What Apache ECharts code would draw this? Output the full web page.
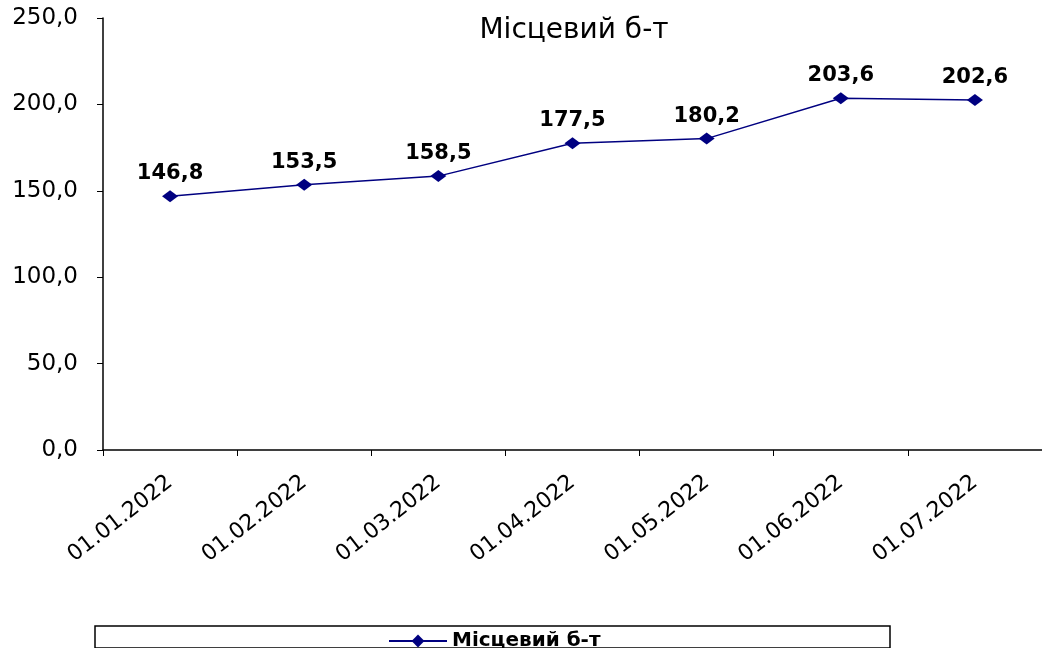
<!DOCTYPE html>
<html lang="uk">
<head>
    <meta charset="UTF-8">
    <title>Місцевий б-т</title>
    <script src="https://cdn.jsdelivr.net/npm/echarts@6/dist/echarts.min.js"></script>
    <style>
        html, body { margin: 0; padding: 0; background: #fff; }
        #main { width: 1042px; height: 648px; }
    </style>
</head>
<body>
    <div id="main"></div>
    <script>
        const dates = ["01.01.2022", "01.02.2022", "01.03.2022", "01.04.2022", "01.05.2022", "01.06.2022", "01.07.2022"];
        const budget = [146.8, 153.5, 158.5, 177.5, 180.2, 203.6, 202.6];
        const seriesName = "Місцевий б-т";

        const chart = echarts.init(document.getElementById('main'));
        const fmt = v => v.toFixed(1).replace('.', ',');

        const option = {
            animation: false,
            textStyle: { fontFamily: "DejaVu Sans, sans-serif" },
            title: {
                text: seriesName,
                left: 569,
                top: 12,
                textAlign: 'center',
                textStyle: { fontSize: 28, fontWeight: 'normal', color: '#000', fontFamily: "DejaVu Sans" }
            },
            graphic: [{
                type: 'rect',
                shape: { x: 95, y: 626, width: 795, height: 22 },
                style: { fill: '#fff', stroke: '#000', lineWidth: 1.5 },
                z: -1
            }],
            legend: {
                data: [seriesName],
                left: 383,
                top: 626,
                itemWidth: 58,
                itemHeight: 16,
                textStyle: { fontSize: 20, fontWeight: 'bold', color: '#000', fontFamily: "DejaVu Sans" }
            },
            grid: { left: 103, top: 18, width: 945, height: 432, containLabel: false },
            xAxis: {
                type: 'category',
                data: dates,
                boundaryGap: true,
                axisLine: { lineStyle: { color: '#000', width: 1.5 } },
                axisTick: { show: true, length: 6, lineStyle: { color: '#000' } },
                axisLabel: { rotate: 38, fontSize: 22, color: '#000', margin: 30, fontFamily: "DejaVu Sans" }
            },
            yAxis: {
                type: 'value',
                min: 0,
                max: 250,
                interval: 50,
                axisLine: { show: true, lineStyle: { color: '#000', width: 1.5 } },
                axisTick: { show: true, length: 6, lineStyle: { color: '#000' } },
                splitLine: { show: false },
                axisLabel: { fontSize: 23, color: '#000', margin: 25, formatter: fmt, fontFamily: "DejaVu Sans" }
            },
            series: [{
                name: seriesName,
                type: 'line',
                data: budget,
                symbol: 'diamond',
                symbolSize: [16, 12],
                itemStyle: { color: '#000080' },
                lineStyle: { color: '#000080', width: 1.5 },
                label: {
                    show: true,
                    position: 'top',
                    distance: 6,
                    fontSize: 21,
                    fontWeight: 'bold',
                    color: '#000',
                    fontFamily: "DejaVu Sans",
                    formatter: p => fmt(p.value)
                }
            }]
        };

        chart.setOption(option);
    </script>
</body>
</html>
